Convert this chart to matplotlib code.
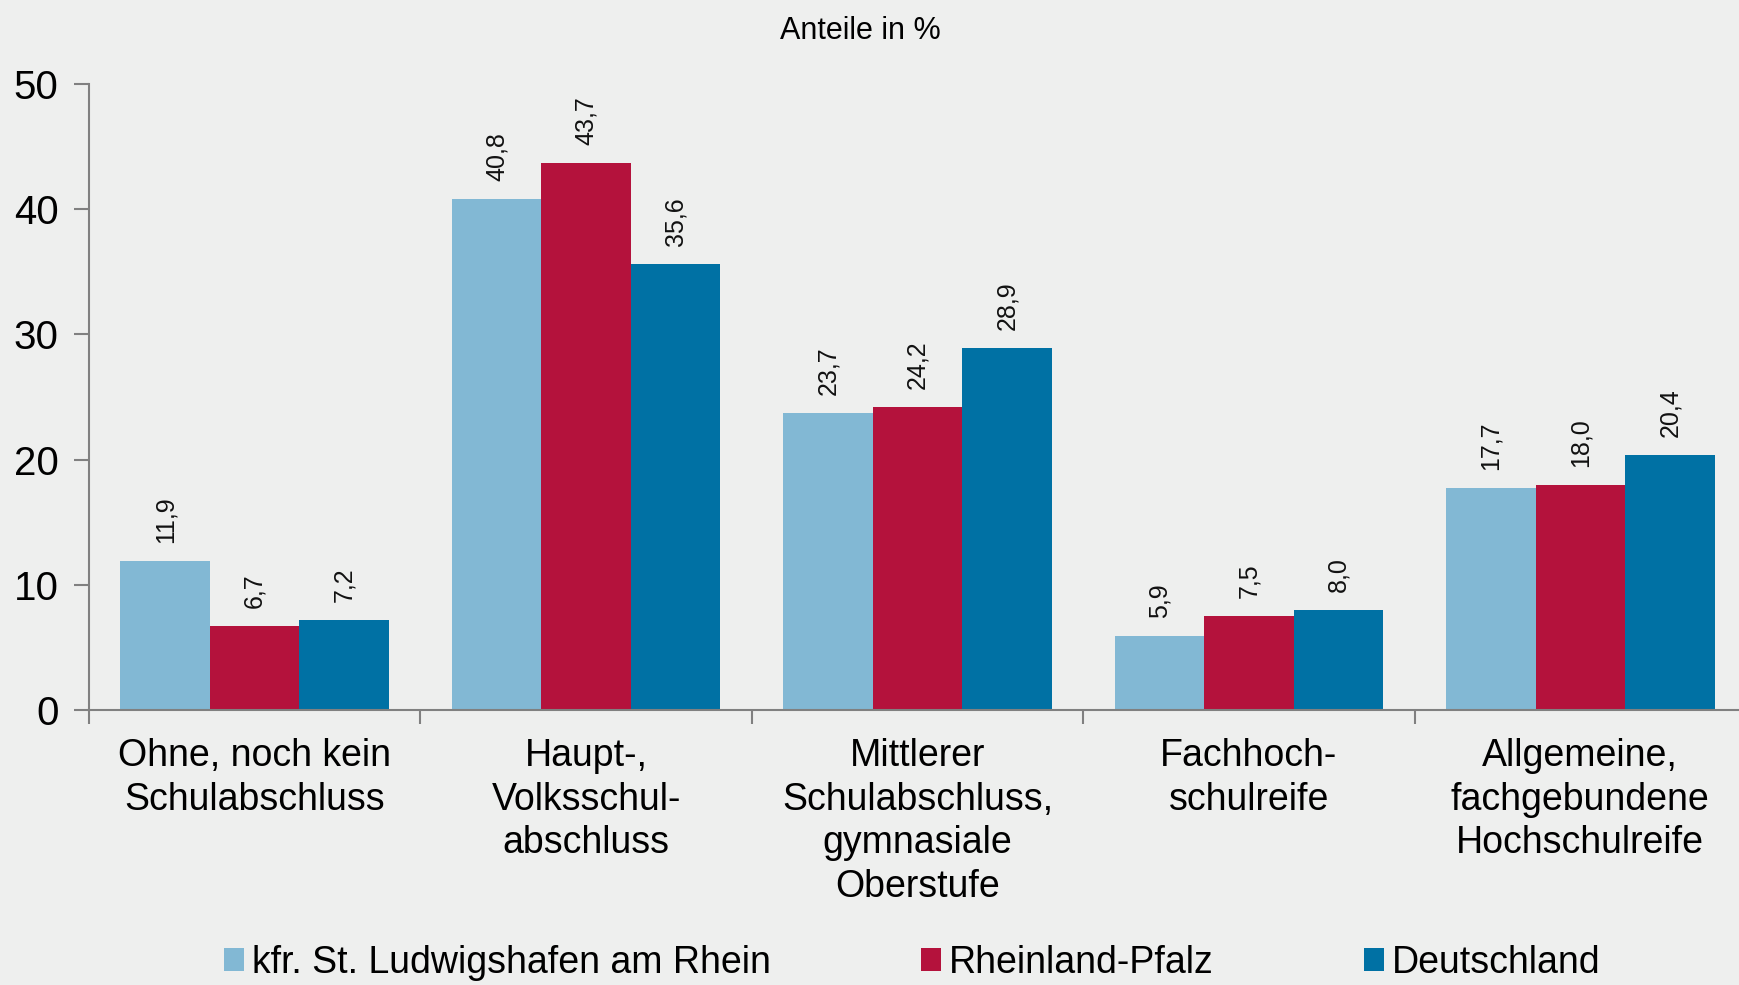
import matplotlib
matplotlib.use("Agg")
import matplotlib.pyplot as plt
import numpy as np
from matplotlib.patches import Patch

plt.rcParams['font.family'] = ['Liberation Sans', 'DejaVu Sans']

categories = ["Ohne, noch kein\nSchulabschluss",
              "Haupt-,\nVolksschul-\nabschluss",
              "Mittlerer\nSchulabschluss,\ngymnasiale\nOberstufe",
              "Fachhoch-\nschulreife",
              "Allgemeine,\nfachgebundene\nHochschulreife"]
series_names = ["kfr. St. Ludwigshafen am Rhein", "Rheinland-Pfalz", "Deutschland"]
ludwigshafen = [11.9, 40.8, 23.7, 5.9, 17.7]
rlp = [6.7, 43.7, 24.2, 7.5, 18.0]
deutschland = [7.2, 35.6, 28.9, 8.0, 20.4]
yticks = [0, 10, 20, 30, 40, 50]

colors = ["#82B8D4", "#B4123C", "#0071A4"]
bg = "#EEEFEE"
spine = "#808080"

fig = plt.figure(figsize=(17.39, 9.85), dpi=100, facecolor=bg)
ax = fig.add_axes([89/1739, 1-710/985, (1746-89)/1739, (710-84)/985])
ax.set_facecolor(bg)

x = np.arange(len(categories))
w = 0.27
for i, (vals, c) in enumerate(zip([ludwigshafen, rlp, deutschland], colors)):
    pos = x + (i - 1) * w
    ax.bar(pos, vals, width=w, color=c, edgecolor="none", zorder=2)
    for p, v in zip(pos, vals):
        ax.annotate(f"{v:.1f}".replace(".", ","), (p, v), xytext=(0, 13),
                    textcoords="offset points", rotation=90, ha="center", va="bottom",
                    fontsize=18, color="#111111")

ax.set_xlim(-0.5, len(categories) - 0.5)
ax.set_ylim(0, 50)
ax.set_yticks(yticks)
ax.set_yticklabels([str(t) for t in yticks], fontsize=29)
ax.tick_params(axis="y", length=11, width=1.5, color=spine, pad=11, direction="out")
ax.set_xticks(x)
ax.set_xticklabels(categories, fontsize=27, linespacing=1.28)
ax.tick_params(axis="x", length=0, pad=20)
ax.set_xticks(np.arange(len(categories) + 1) - 0.5, minor=True)
ax.tick_params(axis="x", which="minor", length=10, width=1.5, color=spine, direction="out")

for s in ["top", "right"]:
    ax.spines[s].set_visible(False)
for s in ["left", "bottom"]:
    ax.spines[s].set_color(spine)
    ax.spines[s].set_linewidth(1.5)

fig.text(0.4945, 1 - 31/985, "Anteile in %", ha="center", va="center", fontsize=22)

handles = [Patch(facecolor=c, edgecolor="none") for c in colors]
fig.legend(handles, series_names, loc="center", bbox_to_anchor=(0.5245, 1 - 963/985),
           ncol=3, frameon=False, fontsize=27, handlelength=0.55, handleheight=0.55,
           handletextpad=0.2, columnspacing=4.0)

fig.savefig("out.png", dpi=100, facecolor=bg)
